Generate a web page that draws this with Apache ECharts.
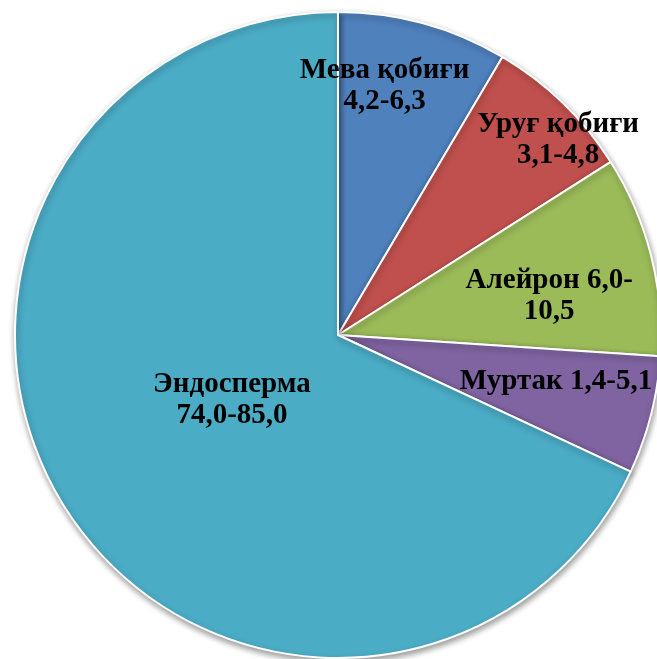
<!DOCTYPE html>
<html><head><meta charset="utf-8">
<script src="https://cdn.jsdelivr.net/npm/echarts@6/dist/echarts.min.js"></script>
<style>html,body{margin:0;padding:0;background:#fff}#c{width:657px;height:659px}</style>
</head><body><div id="c"></div>
<script>
const categories = ['Мева қобиғи', 'Уруғ қобиғи', 'Алейрон', 'Муртак', 'Эндосперма'];
const values = [8.5, 7.5, 10.05, 5.9, 68.05];
const labelTexts = ['Мева қобиғи\n4,2-6,3', 'Уруғ қобиғи\n3,1-4,8', 'Алейрон 6,0-\n10,5', 'Муртак 1,4-5,1', 'Эндосперма\n74,0-85,0'];
const colors = ['#4F81BD', '#C0504D', '#9BBB59', '#8064A2', '#4BACC6'];
// label placement: angle (deg clockwise from top), radius fraction
const labelAngles = [10.6, 48.5, 79.5, 102, 238.5];
const labelRadii = [0.785, 0.91, 0.665, 0.69, 0.385];

const CX = 338, CY = 335, R = 323;
const chart = echarts.init(document.getElementById('c'));
chart.setOption({
  animation: false,
  series: [{
    type: 'pie',
    center: [CX, CY],
    radius: R,
    startAngle: 90,
    clockwise: true,
    data: categories.map((n, i) => ({ name: n, value: values[i], itemStyle: { color: colors[i] } })),
    itemStyle: { borderColor: '#fff', borderWidth: 2, shadowBlur: 6, shadowColor: 'rgba(0,0,0,0.4)', shadowOffsetX: 1, shadowOffsetY: 3 },
    label: {
      show: true,
      position: 'inside',
      formatter: p => labelTexts[p.dataIndex],
      fontFamily: 'Liberation Serif',
      fontWeight: 'bold',
      fontSize: 29,
      lineHeight: 31,
      color: '#000',
      align: 'center'
    },
    labelLine: { show: false },
    labelLayout: p => {
      const a = labelAngles[p.dataIndex] * Math.PI / 180;
      const r = labelRadii[p.dataIndex] * R;
      return { x: CX + r * Math.sin(a), y: CY - r * Math.cos(a), align: 'center', verticalAlign: 'middle' };
    }
  }]
});
</script></body></html>
